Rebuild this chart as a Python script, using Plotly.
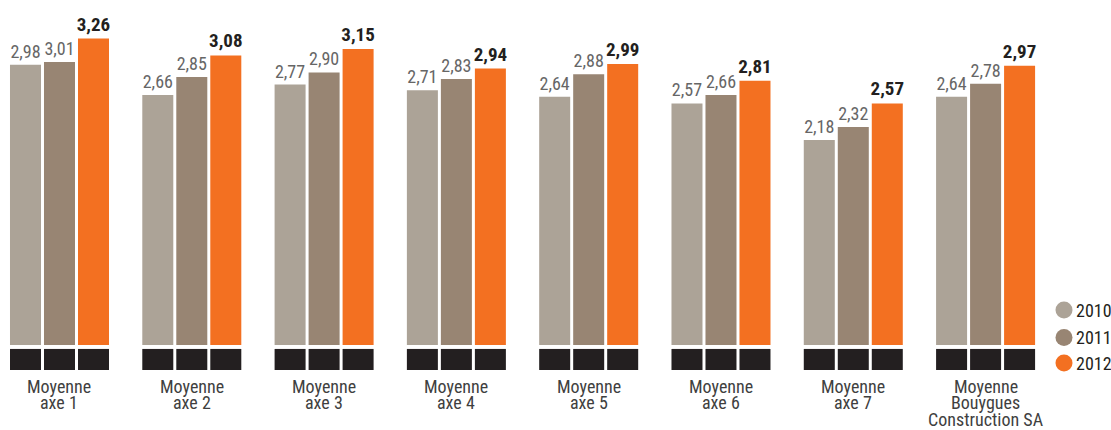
import plotly.graph_objects as go

# ---- data ----
categories = [
    ["Moyenne", "axe 1"],
    ["Moyenne", "axe 2"],
    ["Moyenne", "axe 3"],
    ["Moyenne", "axe 4"],
    ["Moyenne", "axe 5"],
    ["Moyenne", "axe 6"],
    ["Moyenne", "axe 7"],
    ["Moyenne", "Bouygues", "Construction SA"],
]
years = ["2010", "2011", "2012"]
v2010 = [2.98, 2.66, 2.77, 2.71, 2.64, 2.57, 2.18, 2.64]
v2011 = [3.01, 2.85, 2.90, 2.83, 2.88, 2.66, 2.32, 2.78]
v2012 = [3.26, 3.08, 3.15, 2.94, 2.99, 2.81, 2.57, 2.97]

series = [v2010, v2011, v2012]
colors = ["#aca397", "#988573", "#f37021"]
BLACK = "#231f20"
FONT = "Liberation Sans Narrow, Roboto Condensed, DejaVu Sans Condensed, sans-serif"

W, H = 1111, 430
PLOT_H = 370

x = list(range(len(categories)))

fig = go.Figure()
for i, (yr, vals, col) in enumerate(zip(years, series, colors)):
    bold = (i == 2)
    txt = [("<b>%s</b>" if bold else "%s") % f"{v:.2f}".replace(".", ",") for v in vals]
    fig.add_trace(go.Bar(
        x=x, y=vals, name=yr, marker=dict(color=col, line=dict(width=0)),
        offsetgroup=str(i), text=txt, textposition="outside",
        constraintext="none", cliponaxis=False,
        textfont=dict(family=FONT, size=19 if bold else 18,
                      color="#231f20" if bold else "#666666"),
        showlegend=False, hoverinfo="skip",
    ))
    # black footer blocks under each bar
    fig.add_trace(go.Bar(
        x=x, y=[0.224] * len(x), base=-0.266, marker=dict(color=BLACK, line=dict(width=0)),
        offsetgroup=str(i), showlegend=False, hoverinfo="skip",
    ))

# category labels (one annotation per line for tight line spacing)
line_mid = [386, 402.5, 419]
for xi, lines in zip(x, categories):
    for j, line in enumerate(lines):
        fig.add_annotation(
            x=xi, xref="x", y=1 - line_mid[j] / PLOT_H, yref="paper",
            text=line, showarrow=False, xanchor="center", yanchor="middle",
            font=dict(family=FONT, size=18, color="#3f3f3f"),
        )

# legend (circles + labels)
leg_y = [310, 337.5, 363]
r = 8.5
cx = 1064
for yr, col, py in zip(years, colors, leg_y):
    fig.add_shape(type="circle", xref="paper", yref="paper",
                  x0=(cx - r) / W, x1=(cx + r) / W,
                  y0=1 - (py + r) / PLOT_H, y1=1 - (py - r) / PLOT_H,
                  fillcolor=col, line=dict(width=0))
    fig.add_annotation(x=1074 / W, xref="paper", y=1 - py / PLOT_H, yref="paper",
                       text=yr, showarrow=False, xanchor="left", yanchor="middle",
                       font=dict(family=FONT, size=18, color="#231f20"))

fig.update_layout(
    width=W, height=H,
    margin=dict(l=0, r=0, t=0, b=H - PLOT_H, pad=0),
    barmode="group", bargap=0.229, bargroupgap=0.088,
    plot_bgcolor="white", paper_bgcolor="white",
    xaxis=dict(range=[-0.4497, 7.948], showticklabels=False, showgrid=False,
               zeroline=False, showline=False, fixedrange=True),
    yaxis=dict(range=[-0.266, 3.67], showticklabels=False, showgrid=False,
               zeroline=False, showline=False, fixedrange=True),
    font=dict(family=FONT),
)

fig.write_html(
    "out.html",
    config={"displayModeBar": False},
    post_script="document.body.style.margin='0';document.body.style.overflow='hidden';",
)
